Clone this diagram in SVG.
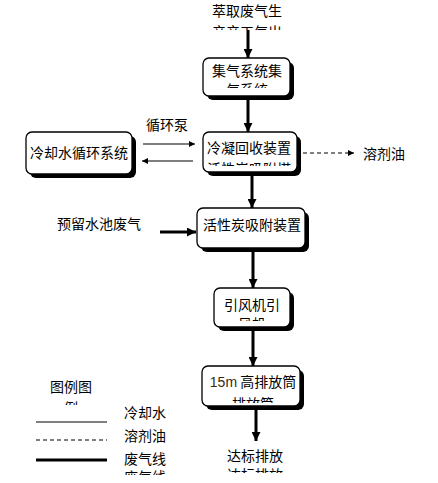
<svg xmlns="http://www.w3.org/2000/svg" width="438" height="483" viewBox="0 0 438 483">
<style>
text{font-family:"Noto Sans CJK SC","Liberation Sans",sans-serif;font-size:14px;fill:#000}
.c{text-anchor:middle}
.sh{fill:#000}
.bx{fill:#fff;stroke:#000;stroke-width:1.3}
.thick{stroke:#000;stroke-width:3;fill:none}
.thin{stroke:#000;stroke-width:1.2;fill:none}
.dash{stroke:#000;stroke-width:1.2;fill:none;stroke-dasharray:4,3}
</style>
<defs>
<marker id="ah" viewBox="0 0 10 10" refX="10" refY="5" markerWidth="3" markerHeight="3" orient="auto" markerUnits="strokeWidth"><path d="M0,0 L10,5 L0,10 z" fill="#000"/></marker>
<marker id="ahs" viewBox="0 0 10 10" refX="10" refY="5" markerWidth="7" markerHeight="6" orient="auto" markerUnits="userSpaceOnUse"><path d="M0,0 L10,5 L0,10 z" fill="#000"/></marker>
<clipPath id="k0"><rect x="0" y="0" width="438" height="30"/></clipPath>
<clipPath id="k1"><rect x="0" y="0" width="438" height="88"/></clipPath>
<clipPath id="k2"><rect x="0" y="0" width="438" height="166"/></clipPath>
<clipPath id="k4"><rect x="0" y="0" width="438" height="321"/></clipPath>
<clipPath id="k5"><rect x="0" y="0" width="438" height="403"/></clipPath>
<clipPath id="k6"><rect x="0" y="0" width="438" height="473"/></clipPath>
<clipPath id="k7"><rect x="0" y="0" width="438" height="405"/></clipPath>
<clipPath id="k8"><rect x="0" y="0" width="438" height="475"/></clipPath>
</defs>
<rect width="438" height="483" fill="#fff"/>

<g id="connectors">
<line class="thick" x1="248" y1="30" x2="248" y2="58" marker-end="url(#ah)"/>
<line class="thick" x1="248" y1="100" x2="248" y2="132" marker-end="url(#ah)"/>
<line class="thick" x1="252" y1="176" x2="252" y2="208" marker-end="url(#ah)"/>
<line class="thick" x1="253" y1="252" x2="253" y2="288" marker-end="url(#ah)"/>
<line class="thick" x1="253" y1="331" x2="253" y2="366" marker-end="url(#ah)"/>
<line class="thick" x1="256" y1="410" x2="256" y2="441" marker-end="url(#ah)"/>
<line class="thin" x1="143" y1="144" x2="195" y2="144" marker-end="url(#ahs)"/>
<line class="thin" x1="193" y1="161" x2="142" y2="161" marker-end="url(#ahs)"/>
<line class="dash" x1="303" y1="153" x2="354" y2="153" marker-end="url(#ahs)"/>
<line class="thick" x1="160" y1="232" x2="196" y2="232" marker-end="url(#ah)"/>
</g>

<g id="src">
<text class="c" x="247" y="16">萃取废气生</text>
<text class="c" x="247" y="37" clip-path="url(#k0)">产产工气出</text>
</g>

<g id="box1">
<rect class="sh" x="207" y="62" width="87" height="38" rx="6"/>
<rect class="bx" x="203" y="58" width="87" height="38" rx="6"/>
<text class="c" x="247" y="76">集气系统集</text>
<text class="c" x="247" y="95" clip-path="url(#k1)">气系统</text>
</g>

<g id="box2">
<rect class="sh" x="207" y="136" width="94" height="40" rx="6"/>
<rect class="bx" x="203" y="132" width="94" height="40" rx="6"/>
<text class="c" x="249" y="153">冷凝回收装置</text>
<text class="c" x="249" y="174" clip-path="url(#k2)">活性炭吸附塔</text>
</g>

<g id="cooling">
<rect class="sh" x="30" y="136" width="106" height="42" rx="6"/>
<rect class="bx" x="26" y="132" width="106" height="42" rx="6"/>
<text class="c" x="79" y="158">冷却水循环系统</text>
</g>

<g id="pump">
<text class="c" x="167" y="130">循环泵</text>
</g>

<g id="oil">
<text x="363" y="159">溶剂油</text>
</g>

<g id="box3">
<rect class="sh" x="201" y="212" width="108" height="40" rx="6"/>
<rect class="bx" x="197" y="208" width="108" height="40" rx="6"/>
<text class="c" x="252" y="230">活性炭吸附装置</text>
</g>

<g id="pool">
<text x="57" y="229">预留水池废气</text>
</g>

<g id="box4">
<rect class="sh" x="218" y="292" width="76" height="39" rx="6"/>
<rect class="bx" x="214" y="288" width="76" height="39" rx="6"/>
<text class="c" x="252" y="310">引风机引</text>
<text class="c" x="252" y="329" clip-path="url(#k4)">风机</text>
</g>

<g id="box5">
<rect class="sh" x="206" y="370" width="98" height="40" rx="6"/>
<rect class="bx" x="202" y="366" width="98" height="40" rx="6"/>
<text class="c" x="253" y="387"><tspan font-family="Liberation Sans" fill="#3a2a10">15m</tspan> 高排放筒</text>
<text class="c" x="253" y="409" clip-path="url(#k5)">排放筒</text>
</g>

<g id="out">
<text class="c" x="255" y="461">达标排放</text>
<text class="c" x="255" y="480" clip-path="url(#k6)">达标排放</text>
</g>

<g id="legend">
<text class="c" x="71" y="392">图例图</text>
<text class="c" x="71" y="413" clip-path="url(#k7)">例</text>
<text x="124" y="418">冷却水</text>
<line x1="36" y1="422" x2="107" y2="422" stroke="#000" stroke-width="1"/>
<text x="124" y="441">溶剂油</text>
<line x1="36" y1="440" x2="107" y2="440" stroke="#000" stroke-width="1" stroke-dasharray="4,3"/>
<text x="124" y="464">废气线</text>
<line x1="36" y1="460" x2="107" y2="460" stroke="#000" stroke-width="3"/>
<text x="124" y="482" clip-path="url(#k8)">废气线</text>
</g>
</svg>
